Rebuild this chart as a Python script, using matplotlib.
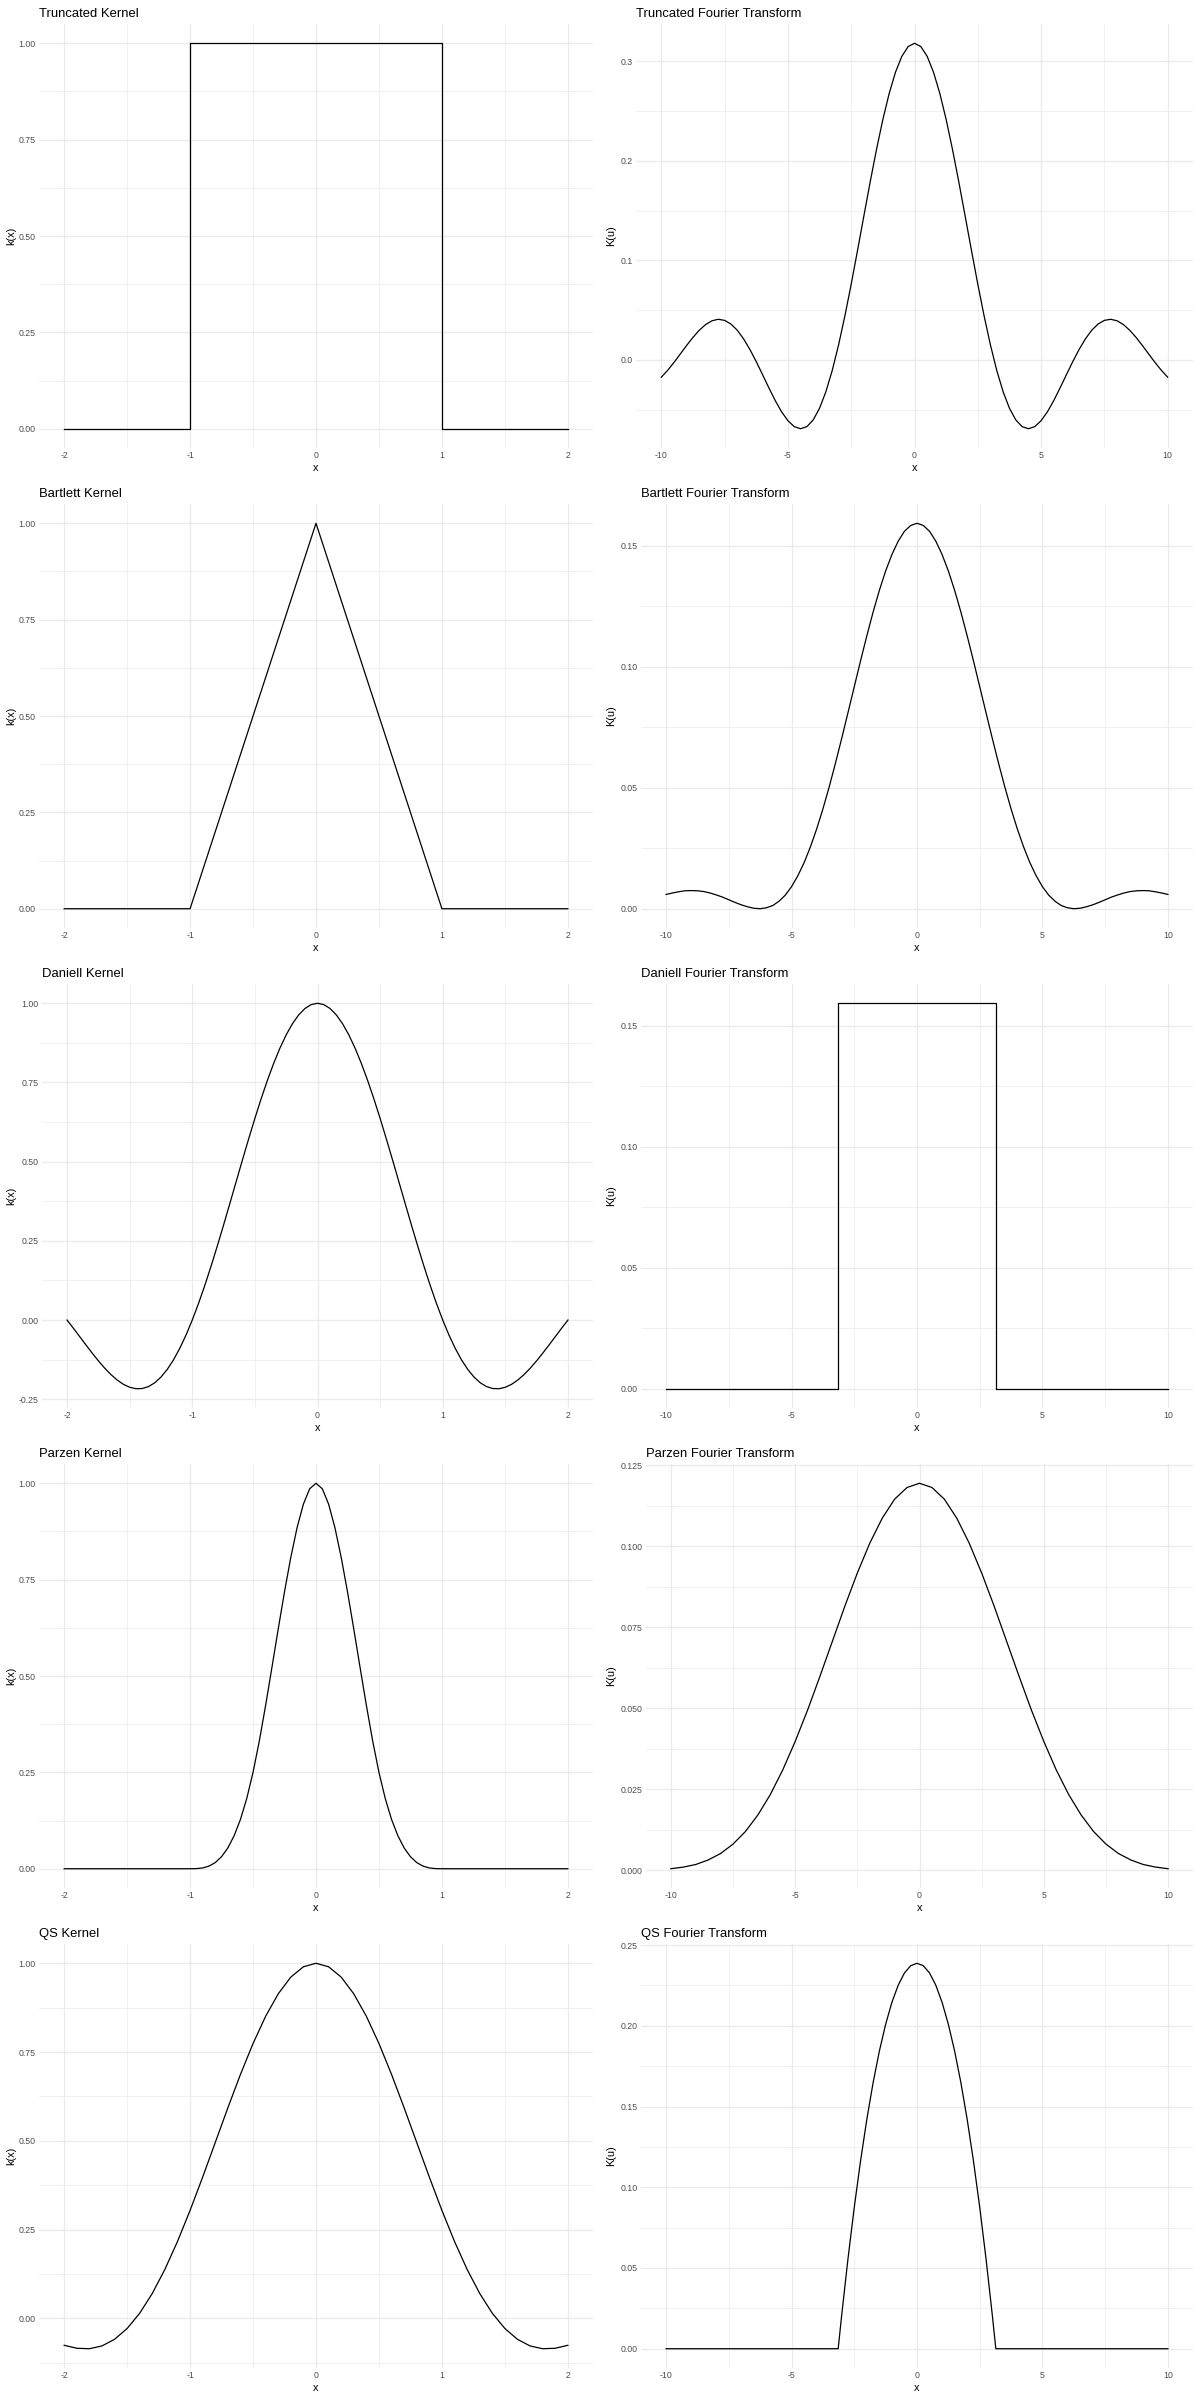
import matplotlib.pyplot as plt
from matplotlib.ticker import MultipleLocator, FormatStrFormatter
import numpy as np

plt.rcParams['font.family'] = ['Liberation Sans', 'DejaVu Sans']
plt.rcParams['axes.unicode_minus'] = False   # ggplot style hyphen minus

# sample grids
x_grid = np.linspace(-2, 2, 41)      # kernels, step 0.1
x_fine = np.linspace(-2, 2, 81)      # kernels, step 0.05
u_half = np.linspace(-10, 10, 41)    # transforms, step 0.5
u_quarter = np.linspace(-10, 10, 81) # transforms, step 0.25

# Truncated
trunc_x = [-2, -1, -1, 1, 1, 2]
trunc_k = [0, 0, 1, 1, 0, 0]
trunc_K = [-0.0173, -0.0104, -0.0025, 0.0060, 0.0146, 0.0227, 0.0299, 0.0356, 0.0394, 0.0409,
           0.0398, 0.0361, 0.0299, 0.0212, 0.0105, -0.0017, -0.0148, -0.0281, -0.0408, -0.0521,
           -0.0610, -0.0670, -0.0691, -0.0670, -0.0602, -0.0485, -0.0319, -0.0106, 0.0150, 0.0442,
           0.0762, 0.1101, 0.1447, 0.1790, 0.2117, 0.2417, 0.2679, 0.2893, 0.3052, 0.3150,
           0.3183,
           0.3150, 0.3052, 0.2893, 0.2679, 0.2417, 0.2117, 0.1790, 0.1447, 0.1101, 0.0762,
           0.0442, 0.0150, -0.0106, -0.0319, -0.0485, -0.0602, -0.0670, -0.0691, -0.0670, -0.0610,
           -0.0521, -0.0408, -0.0281, -0.0148, -0.0017, 0.0105, 0.0212, 0.0299, 0.0361, 0.0398,
           0.0409, 0.0394, 0.0356, 0.0299, 0.0227, 0.0146, 0.0060, -0.0025, -0.0104, -0.0173]

# Bartlett
bart_x = [-2, -1, 0, 1, 2]
bart_k = [0, 0, 1, 0, 0]
bart_K = [0.0059, 0.0065, 0.0070, 0.0074, 0.0075, 0.0074, 0.0071, 0.0065, 0.0057, 0.0048,
          0.0037, 0.0026, 0.0016, 0.0008, 0.0002, 0.0000, 0.0004, 0.0013, 0.0031, 0.0056,
          0.0091, 0.0136, 0.0190, 0.0255, 0.0329, 0.0412, 0.0503, 0.0601, 0.0704, 0.0810,
          0.0917, 0.1024, 0.1127, 0.1225, 0.1315, 0.1395, 0.1463, 0.1518, 0.1559, 0.1583,
          0.1592,
          0.1583, 0.1559, 0.1518, 0.1463, 0.1395, 0.1315, 0.1225, 0.1127, 0.1024, 0.0917,
          0.0810, 0.0704, 0.0601, 0.0503, 0.0412, 0.0329, 0.0255, 0.0190, 0.0136, 0.0091,
          0.0056, 0.0031, 0.0013, 0.0004, 0.0000, 0.0002, 0.0008, 0.0016, 0.0026, 0.0037,
          0.0048, 0.0057, 0.0065, 0.0071, 0.0074, 0.0075, 0.0074, 0.0070, 0.0065, 0.0059]

# Daniell
dan_k = [0, -0.0255, -0.0518, -0.0781, -0.1039, -0.1286, -0.1515, -0.1719, -0.1892, -0.2028,
         -0.2122, -0.2168, -0.2162, -0.2101, -0.1981, -0.1801, -0.1559, -0.1257, -0.0894, -0.0474,
         0, 0.0524, 0.1093, 0.1700, 0.2339, 0.3001, 0.3679, 0.4363, 0.5046, 0.5716,
         0.6366, 0.6987, 0.7568, 0.8103, 0.8584, 0.9003, 0.9355, 0.9634, 0.9836, 0.9959,
         1.0,
         0.9959, 0.9836, 0.9634, 0.9355, 0.9003, 0.8584, 0.8103, 0.7568, 0.6987, 0.6366,
         0.5716, 0.5046, 0.4363, 0.3679, 0.3001, 0.2339, 0.1700, 0.1093, 0.0524, 0,
         -0.0474, -0.0894, -0.1257, -0.1559, -0.1801, -0.1981, -0.2101, -0.2162, -0.2168, -0.2122,
         -0.2028, -0.1892, -0.1719, -0.1515, -0.1286, -0.1039, -0.0781, -0.0518, -0.0255, 0]
dan_u = [-10, -3.1416, -3.1416, 3.1416, 3.1416, 10]
dan_K = [0, 0, 0.1592, 0.1592, 0, 0]

# Parzen
parz_k = [0, 0, 0, 0, 0, 0, 0, 0, 0, 0,
          0, 0, 0, 0, 0, 0, 0, 0, 0, 0,
          0, 0.0003, 0.002, 0.0068, 0.016, 0.0313, 0.054, 0.0858, 0.128, 0.1823,
          0.25, 0.3318, 0.424, 0.5223, 0.622, 0.7188, 0.808, 0.8853, 0.946, 0.9858,
          1.0,
          0.9858, 0.946, 0.8853, 0.808, 0.7188, 0.622, 0.5223, 0.424, 0.3318, 0.25,
          0.1823, 0.128, 0.0858, 0.054, 0.0313, 0.016, 0.0068, 0.002, 0.0003, 0,
          0, 0, 0, 0, 0, 0, 0, 0, 0, 0,
          0, 0, 0, 0, 0, 0, 0, 0, 0, 0]
parz_K = [0.0004, 0.0009, 0.0017, 0.0031, 0.0051, 0.0080, 0.0119, 0.0170, 0.0233, 0.0309,
          0.0397, 0.0494, 0.0599, 0.0707, 0.0815, 0.0917, 0.1009, 0.1086, 0.1145, 0.1181,
          0.1194,
          0.1181, 0.1145, 0.1086, 0.1009, 0.0917, 0.0815, 0.0707, 0.0599, 0.0494, 0.0397,
          0.0309, 0.0233, 0.0170, 0.0119, 0.0080, 0.0051, 0.0031, 0.0017, 0.0009, 0.0004]

# Quadratic spectral
qs_k = [-0.0760, -0.0844, -0.0857, -0.0778, -0.0592, -0.0287, 0.0144, 0.0701, 0.1379, 0.2165,
        0.3040, 0.3979, 0.4953, 0.5928, 0.6869, 0.7740, 0.8507, 0.9139, 0.9611, 0.9901,
        1.0,
        0.9901, 0.9611, 0.9139, 0.8507, 0.7740, 0.6869, 0.5928, 0.4953, 0.3979, 0.3040,
        0.2165, 0.1379, 0.0701, 0.0144, -0.0287, -0.0592, -0.0778, -0.0857, -0.0844, -0.0760]
qs_u = [-10, -3.1416, -3.0, -2.75, -2.5, -2.25, -2.0, -1.75, -1.5, -1.25, -1.0, -0.75, -0.5, -0.25,
        0.0, 0.25, 0.5, 0.75, 1.0, 1.25, 1.5, 1.75, 2.0, 2.25, 2.5, 2.75, 3.0, 3.1416, 10]
qs_K = [0, 0, 0.0210, 0.0558, 0.0876, 0.1163, 0.1420, 0.1647, 0.1843, 0.2009, 0.2145, 0.2251, 0.2327, 0.2372,
        0.2387, 0.2372, 0.2327, 0.2251, 0.2145, 0.2009, 0.1843, 0.1647, 0.1420, 0.1163, 0.0876, 0.0558, 0.0210, 0, 0]

names = ["Truncated", "Bartlett", "Daniell", "Parzen", "QS"]
kernels = [(trunc_x, trunc_k), (bart_x, bart_k), (x_fine, dan_k), (x_fine, parz_k), (x_grid, qs_k)]
transforms = [(u_quarter, trunc_K), (u_quarter, bart_K), (dan_u, dan_K), (u_half, parz_K), (qs_u, qs_K)]
# y tick step and label format for the transform panels
ft_steps = [0.1, 0.05, 0.05, 0.025, 0.05]
ft_fmts = ["%.1f", "%.2f", "%.2f", "%.3f", "%.2f"]

W, H = 1200, 2400
fig = plt.figure(figsize=(12, 24), dpi=100)

def add_panel(left, top, right, bottom):
    # pixel box -> figure fraction
    return fig.add_axes([left / W, 1 - bottom / H, (right - left) / W, (bottom - top) / H])

def style(ax, xdata, ydata, xstep, ystep, yfmt):
    ax.plot(xdata, ydata, color="black", lw=0.9, zorder=3, solid_joinstyle="round")
    ax.margins(0.05)
    for s in ax.spines.values():
        s.set_visible(False)
    ax.xaxis.set_major_locator(MultipleLocator(xstep))
    ax.xaxis.set_minor_locator(MultipleLocator(xstep / 2))
    ax.yaxis.set_major_locator(MultipleLocator(ystep))
    ax.yaxis.set_minor_locator(MultipleLocator(ystep / 2))
    ax.yaxis.set_major_formatter(FormatStrFormatter(yfmt))
    ax.xaxis.set_major_formatter(FormatStrFormatter("%d"))
    ax.grid(which="major", color="#EBEBEB", lw=1.0)
    ax.grid(which="minor", color="#EBEBEB", lw=0.5)
    ax.set_axisbelow(True)
    ax.tick_params(which="both", length=0, labelsize=6.3, labelcolor="#4D4D4D", pad=2.5)

left_l = [39, 39, 42, 39, 39]
right_l = [636, 641, 641, 646, 641]

for i in range(5):
    top = i * 480
    # kernel
    ax = add_panel(left_l[i], top + 24, 593, top + 448)
    style(ax, kernels[i][0], kernels[i][1], 1, 0.25, "%.2f")
    fig.text(left_l[i] / W, 1 - (top + 17) / H, names[i] + " Kernel", fontsize=9.4, va="baseline")
    fig.text(11 / W, 1 - (top + 236) / H, "k(x)", fontsize=7.9, rotation=90, ha="center", va="center")
    fig.text((left_l[i] + 593) / 2 / W, 1 - (top + 471) / H, "x", fontsize=7.9, ha="center", va="baseline")
    # fourier transform
    ax = add_panel(right_l[i], top + 24, 1193, top + 448)
    style(ax, transforms[i][0], transforms[i][1], 5, ft_steps[i], ft_fmts[i])
    fig.text(right_l[i] / W, 1 - (top + 17) / H, names[i] + " Fourier Transform", fontsize=9.4, va="baseline")
    fig.text(611 / W, 1 - (top + 236) / H, "K(u)", fontsize=7.9, rotation=90, ha="center", va="center")
    fig.text((right_l[i] + 1193) / 2 / W, 1 - (top + 471) / H, "x", fontsize=7.9, ha="center", va="baseline")

fig.savefig("out.png", dpi=100, facecolor="white")
